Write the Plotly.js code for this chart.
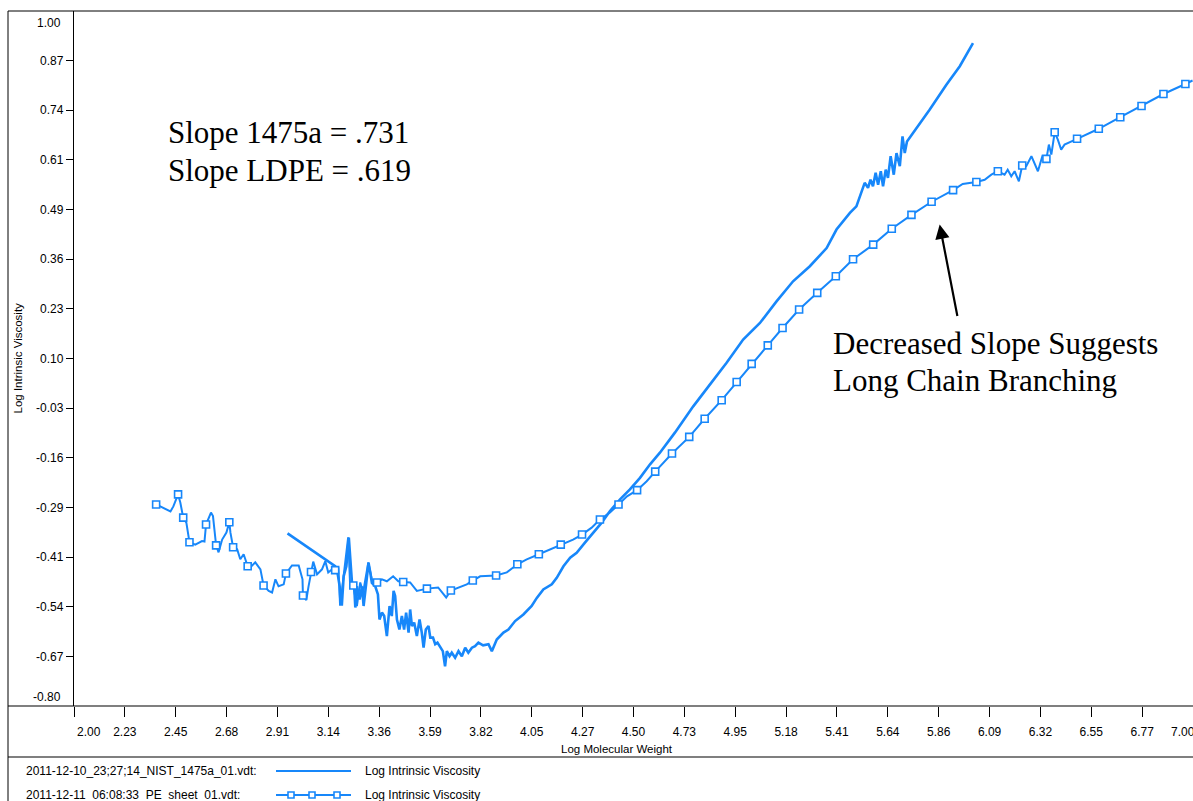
<!DOCTYPE html>
<html>
<head>
<meta charset="utf-8">
<script src="https://cdn.plot.ly/plotly-3.0.1.min.js"></script>
<style>html,body{margin:0;padding:0;background:#fff;}#chart{width:1193px;height:801px;}</style>
</head>
<body>
<div id="chart"></div>
<script>
// ---- data ----
const nistName = "2011-12-10_23;27;14_NIST_1475a_01.vdt:";
const peName = "2011-12-11_06:08:33_PE_sheet_01.vdt:";
const seriesLabel = "Log Intrinsic Viscosity";

const nistX = [2.954,3.167,3.175,3.187,3.190,3.197,3.205,3.217,3.228,3.234,3.242,3.252,3.257,3.264,3.276,3.287,3.294,3.306,3.316,3.324,3.331,3.346,3.358,3.365,3.376,3.386,3.398,3.410,3.420,3.428,3.435,3.443,3.454,3.465,3.475,3.484,3.495,3.502,3.510,3.520,3.532,3.544,3.554,3.562,3.572,3.584,3.592,3.604,3.614,3.624,3.636,3.648,3.658,3.666,3.678,3.688,3.703,3.718,3.733,3.748,3.762,3.778,3.792,3.807,3.828,3.852,3.867,3.889,3.919,3.941,3.971,4.008,4.045,4.068,4.097,4.135,4.157,4.187,4.217,4.246,4.283,4.320,4.358,4.395,4.440,4.484,4.529,4.574,4.618,4.685,4.767,4.842,4.916,4.990,5.065,5.139,5.213,5.288,5.363,5.407,5.444,5.467,5.496,5.519,5.533,5.548,5.559,5.570,5.582,5.593,5.605,5.615,5.627,5.637,5.649,5.663,5.675,5.690,5.702,5.712,5.722,5.749,5.823,5.898,5.958,6.017];
const nistY = [-0.353,-0.438,-0.446,-0.490,-0.537,-0.537,-0.464,-0.438,-0.364,-0.429,-0.480,-0.490,-0.545,-0.490,-0.524,-0.490,-0.541,-0.481,-0.429,-0.455,-0.481,-0.490,-0.511,-0.576,-0.558,-0.567,-0.619,-0.541,-0.567,-0.502,-0.515,-0.576,-0.602,-0.567,-0.602,-0.558,-0.610,-0.550,-0.593,-0.584,-0.619,-0.576,-0.610,-0.649,-0.602,-0.593,-0.623,-0.623,-0.640,-0.636,-0.649,-0.658,-0.697,-0.658,-0.671,-0.662,-0.675,-0.658,-0.671,-0.649,-0.662,-0.649,-0.645,-0.636,-0.643,-0.640,-0.658,-0.628,-0.610,-0.602,-0.580,-0.563,-0.541,-0.520,-0.498,-0.485,-0.468,-0.438,-0.416,-0.403,-0.377,-0.351,-0.325,-0.295,-0.265,-0.239,-0.209,-0.174,-0.144,-0.092,-0.024,0.033,0.089,0.149,0.192,0.248,0.300,0.339,0.386,0.434,0.462,0.477,0.494,0.529,0.555,0.542,0.563,0.546,0.581,0.550,0.585,0.546,0.589,0.568,0.624,0.576,0.632,0.598,0.675,0.632,0.662,0.684,0.744,0.809,0.857,0.917];

const peX = [2.367,2.431,2.444,2.465,2.475,2.488,2.502,2.516,2.542,2.572,2.583,2.590,2.612,2.621,2.635,2.646,2.662,2.681,2.694,2.699,2.711,2.729,2.743,2.758,2.776,2.788,2.810,2.833,2.847,2.870,2.885,2.900,2.914,2.937,2.947,2.974,3.004,3.021,3.023,3.038,3.048,3.059,3.069,3.086,3.108,3.123,3.136,3.153,3.167,3.181,3.190,3.203,3.225,3.234,3.248,3.264,3.279,3.292,3.315,3.331,3.354,3.376,3.398,3.426,3.449,3.471,3.502,3.532,3.577,3.627,3.663,3.684,3.755,3.782,3.815,3.886,3.934,3.981,4.023,4.077,4.127,4.175,4.230,4.270,4.313,4.350,4.395,4.433,4.471,4.516,4.559,4.597,4.672,4.749,4.818,4.894,4.961,5.028,5.100,5.166,5.240,5.321,5.404,5.481,5.571,5.654,5.742,5.832,5.928,5.971,6.032,6.069,6.099,6.128,6.158,6.172,6.188,6.203,6.222,6.237,6.255,6.278,6.292,6.307,6.327,6.345,6.356,6.367,6.382,6.396,6.411,6.426,6.482,6.579,6.675,6.770,6.868,6.966,6.998];
const peY = [-0.278,-0.296,-0.283,-0.252,-0.273,-0.312,-0.325,-0.376,-0.382,-0.373,-0.374,-0.330,-0.299,-0.308,-0.384,-0.402,-0.369,-0.351,-0.324,-0.351,-0.389,-0.394,-0.420,-0.407,-0.438,-0.441,-0.428,-0.446,-0.488,-0.502,-0.506,-0.472,-0.490,-0.485,-0.457,-0.436,-0.436,-0.472,-0.514,-0.526,-0.490,-0.453,-0.426,-0.459,-0.446,-0.425,-0.454,-0.446,-0.448,-0.441,-0.537,-0.472,-0.363,-0.490,-0.488,-0.541,-0.480,-0.506,-0.428,-0.472,-0.480,-0.472,-0.477,-0.464,-0.477,-0.479,-0.480,-0.502,-0.496,-0.493,-0.519,-0.501,-0.485,-0.475,-0.464,-0.462,-0.454,-0.433,-0.420,-0.407,-0.394,-0.382,-0.369,-0.356,-0.338,-0.317,-0.299,-0.278,-0.257,-0.241,-0.218,-0.193,-0.146,-0.103,-0.056,-0.008,0.039,0.086,0.134,0.179,0.227,0.270,0.313,0.357,0.395,0.436,0.472,0.506,0.536,0.552,0.557,0.563,0.576,0.585,0.576,0.589,0.572,0.585,0.559,0.600,0.598,0.624,0.607,0.585,0.624,0.617,0.654,0.628,0.686,0.667,0.641,0.654,0.669,0.695,0.725,0.754,0.785,0.811,0.820];
// indices of the PE points that carry a sample marker
const peSampleIdx = [0,3,5,7,11,14,18,20,24,28,34,38,41,48,54,60,65,68,71,73,75,77,79,81,83,85,87,89,91,92,93,94,95,96,97,98,99,100,101,102,103,104,105,106,107,108,110,113,119,125,128,132,133,134,135,136,137];

const xTickLabels = ["2.00","2.23","2.45","2.68","2.91","3.14","3.36","3.59","3.82","4.05","4.27","4.50","4.73","4.95","5.18","5.41","5.64","5.86","6.09","6.32","6.55","6.77","7.00"];
const yTickLabels = ["-0.80","-0.67","-0.54","-0.41","-0.29","-0.16","-0.03","0.10","0.23","0.36","0.49","0.61","0.74","0.87","1.00"];
const xMin = 2.0, xMax = 7.0, yMin = -0.80, yMax = 1.00;

// ---- build ----
const blue = '#1787fa';
const tickFont = {family: 'Liberation Sans, Arial, sans-serif', size: 12, color: '#000'};
const serif = {family: 'Liberation Serif, Times New Roman, serif', size: 31, color: '#000'};

const xTickVals = xTickLabels.map((t, i) => xMin + i * (xMax - xMin) / (xTickLabels.length - 1));
const xTickText = xTickLabels.map((t, i) => (i === 0 || i === xTickLabels.length - 1) ? '' : t);
const yAll = yTickLabels.map((t, i) => yMin + i * (yMax - yMin) / (yTickLabels.length - 1));
const yTickVals = yAll.slice(1, -1);
const yTickText = yTickLabels.slice(1, -1);

const traces = [
  {x: nistX, y: nistY, type: 'scatter', mode: 'lines', line: {color: blue, width: 2.6}, hoverinfo: 'skip'},
  {x: peX, y: peY, type: 'scatter', mode: 'lines', line: {color: blue, width: 2}, hoverinfo: 'skip'},
  {x: peSampleIdx.map(i => peX[i]), y: peSampleIdx.map(i => peY[i]), type: 'scatter', mode: 'markers',
   marker: {symbol: 'square', size: 7, color: '#fff', line: {color: blue, width: 1.6}}, hoverinfo: 'skip'}
];

// pixel helpers for paper coordinates (plot area: x 74..1193, y 11..706)
const L = 74, R = 1193, T = 11, B = 706;
const px = v => (v - L) / (R - L);
const py = v => (B - v) / (B - T);

const shapes = [
  {type: 'line', xref: 'paper', yref: 'paper', x0: px(8), x1: px(8), y0: py(801), y1: 1, line: {color: '#000', width: 1}},
  {type: 'line', xref: 'paper', yref: 'paper', x0: px(8), x1: 1, y0: 1, y1: 1, line: {color: '#000', width: 1}},
  {type: 'line', xref: 'paper', yref: 'paper', x0: px(8), x1: 1, y0: 0, y1: 0, line: {color: '#000', width: 1.2}},
  {type: 'line', xref: 'paper', yref: 'paper', x0: px(8), x1: 1, y0: py(757), y1: py(757), line: {color: '#000', width: 1.2}},
  // legend samples
  {type: 'line', xref: 'paper', yref: 'paper', x0: px(276), x1: px(351), y0: py(771), y1: py(771), line: {color: blue, width: 2}},
  {type: 'line', xref: 'paper', yref: 'paper', x0: px(276), x1: px(351), y0: py(795), y1: py(795), line: {color: blue, width: 2}}
];
[291, 312, 337].forEach(xp => shapes.push({
  type: 'rect', xref: 'paper', yref: 'paper', xsizemode: 'pixel', ysizemode: 'pixel',
  xanchor: px(xp), yanchor: py(795), x0: -3, x1: 3, y0: -3, y1: 3,
  fillcolor: '#fff', line: {color: blue, width: 1.6}
}));

const ann = (text, x, y, opts) => Object.assign({text, x, y, xref: 'paper', yref: 'paper', showarrow: false,
  xanchor: 'left', yanchor: 'middle', font: tickFont}, opts || {});

const annotations = [
  ann('Slope 1475a = .731', px(166), py(133), {font: serif}),
  ann('Slope LDPE = .619', px(166), py(170), {font: serif}),
  ann('Decreased Slope Suggests', px(831), py(343), {font: serif}),
  ann('Long Chain Branching', px(831), py(380), {font: serif}),
  {x: 5.868, y: 0.447, xref: 'x', yref: 'y', ax: 18, ay: 93, axref: 'pixel', ayref: 'pixel', text: '', showarrow: true,
   arrowhead: 2, arrowsize: 1.3, arrowwidth: 2.2, arrowcolor: '#000'},
  // edge tick labels
  ann(xTickLabels[0], px(89), py(732), {xanchor: 'center'}),
  ann(xTickLabels[xTickLabels.length - 1], px(1183), py(732), {xanchor: 'center'}),
  ann(yTickLabels[yTickLabels.length - 1], px(63), py(23), {xanchor: 'right'}),
  ann(yTickLabels[0], px(63), py(697), {xanchor: 'right'}),
  // axis titles
  ann('Log Molecular Weight', px(617), py(749), {xanchor: 'center', font: Object.assign({}, tickFont, {size: 11.5})}),
  ann('Log Intrinsic Viscosity', px(17), 0.5, {xanchor: 'center', textangle: -90, font: Object.assign({}, tickFont, {size: 11.5})}),
  // legend
  ann(nistName, px(24), py(771)),
  ann(seriesLabel, px(363), py(771)),
  ann(peName, px(24), py(795)),
  ann(seriesLabel, px(363), py(795))
];

const layout = {
  width: 1193, height: 801,
  margin: {l: L, r: 1193 - R, t: T, b: 801 - B, pad: 0},
  paper_bgcolor: '#fff', plot_bgcolor: '#fff',
  showlegend: false,
  xaxis: {range: [xMin, xMax], tickmode: 'array', tickvals: xTickVals, ticktext: xTickText,
    ticks: 'outside', ticklen: 10, tickwidth: 1, tickcolor: '#000', showgrid: false, zeroline: false,
    showline: false, tickfont: tickFont, ticklabelstandoff: 5, fixedrange: true},
  yaxis: {range: [yMin, yMax], tickmode: 'array', tickvals: yTickVals, ticktext: yTickText,
    ticks: 'outside', ticklen: 7, tickwidth: 1, tickcolor: '#000', showgrid: false, zeroline: false,
    showline: true, linecolor: '#000', linewidth: 1.2, tickfont: tickFont, fixedrange: true},
  shapes, annotations
};

Plotly.newPlot('chart', traces, layout, {staticPlot: true, displayModeBar: false});
</script>
</body>
</html>
